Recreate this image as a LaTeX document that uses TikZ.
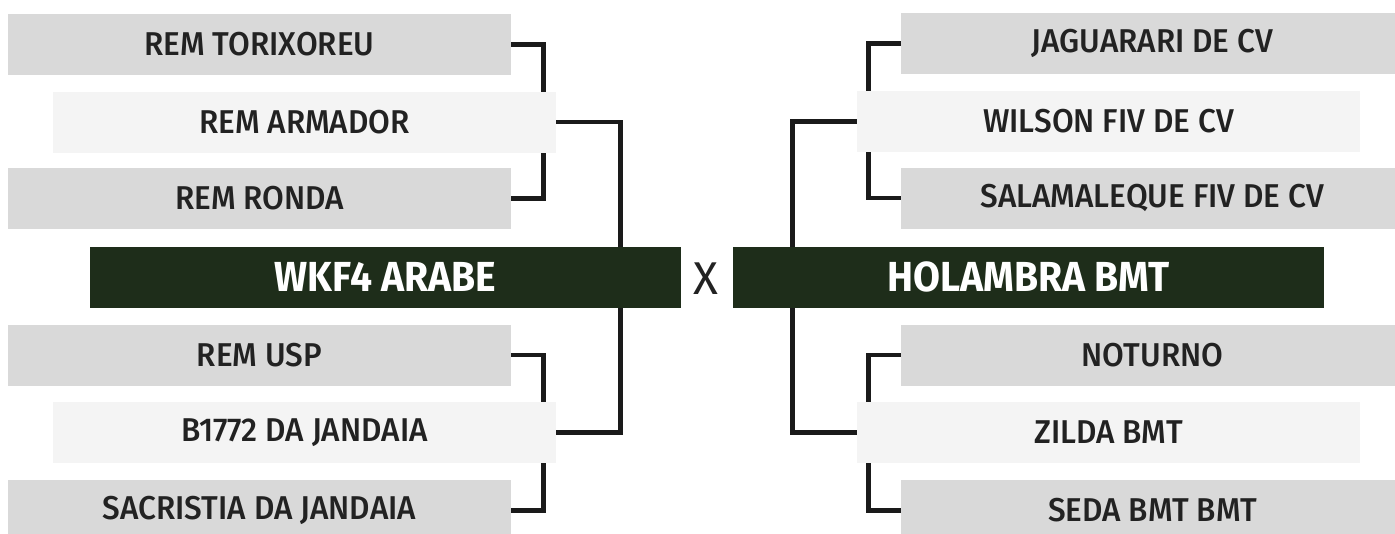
\documentclass[tikz,border=0pt]{standalone}
\usepackage{fontspec}
\setmainfont{Fira Sans}
\newfontfamily\labelfont{Fira Sans Medium}[FakeStretch=0.955]
\newfontfamily\teamfont{Fira Sans Bold}[FakeStretch=0.93]
\usetikzlibrary{positioning}
\definecolor{boxgrey}{HTML}{D9D9D9}
\definecolor{boxlight}{HTML}{F4F4F4}
\definecolor{teamgreen}{HTML}{1E2D1A}
\definecolor{txt}{HTML}{222222}
\definecolor{linec}{HTML}{1A1A1A}
\pgfdeclarelayer{bg}
\pgfsetlayers{bg,main}
\tikzset{
  entry/.style={fill=boxgrey, minimum width=503pt, minimum height=61pt, inner sep=0pt, text=txt, font=\labelfont\fontsize{33}{33}\selectfont},
  entrylight/.style={entry, fill=boxlight},
  team/.style={fill=teamgreen, minimum width=591pt, minimum height=61pt, inner sep=0pt, text=white, font=\teamfont\fontsize{42}{42}\selectfont},
  versus/.style={text=txt, inner sep=0pt, font=\fontsize{46}{46}\selectfont},
  conn/.style={draw=linec, line width=4.8pt, line join=miter, line cap=rect}
}
\begin{document}
\begin{tikzpicture}[x=1pt, y=-1pt]
\useasboundingbox (0,0) rectangle (1395,533);
% left side
\node[entry] (tor) at (259.5,44.5) {REM TORIXOREU};
\node[entrylight] (arm) at (304.5,122) {REM ARMADOR};
\node[entry] (ron) at (259.5,198.5) {REM RONDA};
\node[team] (wkf) at (385.5,277) {WKF4 ARABE};
\node[entry] (usp) at (259.5,355) {REM USP};
\node[entrylight] (b17) at (304.5,432.5) {B1772 DA JANDAIA};
\node[entry] (sac) at (259.5,510.5) {SACRISTIA DA JANDAIA};
% centre
\node[versus] (vs) at (706,278.5) {X};
% right side
\node[entry] (jag) at (1152.5,43.5) {JAGUARARI DE CV};
\node[entrylight] (wil) at (1108.5,121.5) {WILSON FIV DE CV};
\node[entry] (sal) at (1152.5,198) {SALAMALEQUE FIV DE CV};
\node[team] (hol) at (1028.5,277) {HOLAMBRA BMT};
\node[entry] (not) at (1152.5,355) {NOTURNO};
\node[entrylight] (zil) at (1108.5,432.5) {ZILDA BMT};
\node[entry] (sed) at (1152.5,510.5) {SEDA BMT BMT};
\begin{pgfonlayer}{bg}
\draw[conn] (tor.east) -- ++(32,0) |- (ron.east);
\draw[conn] (usp.east) -- ++(32,0) |- (sac.east);
\draw[conn] (arm.east) -- ++(64,0) |- (b17.east);
\draw[conn] (jag.west) -- ++(-32,0) |- (sal.west);
\draw[conn] (not.west) -- ++(-32,0) |- (sed.west);
\draw[conn] (wil.west) -- ++(-64,0) |- (zil.west);
\end{pgfonlayer}
\end{tikzpicture}
\end{document}
